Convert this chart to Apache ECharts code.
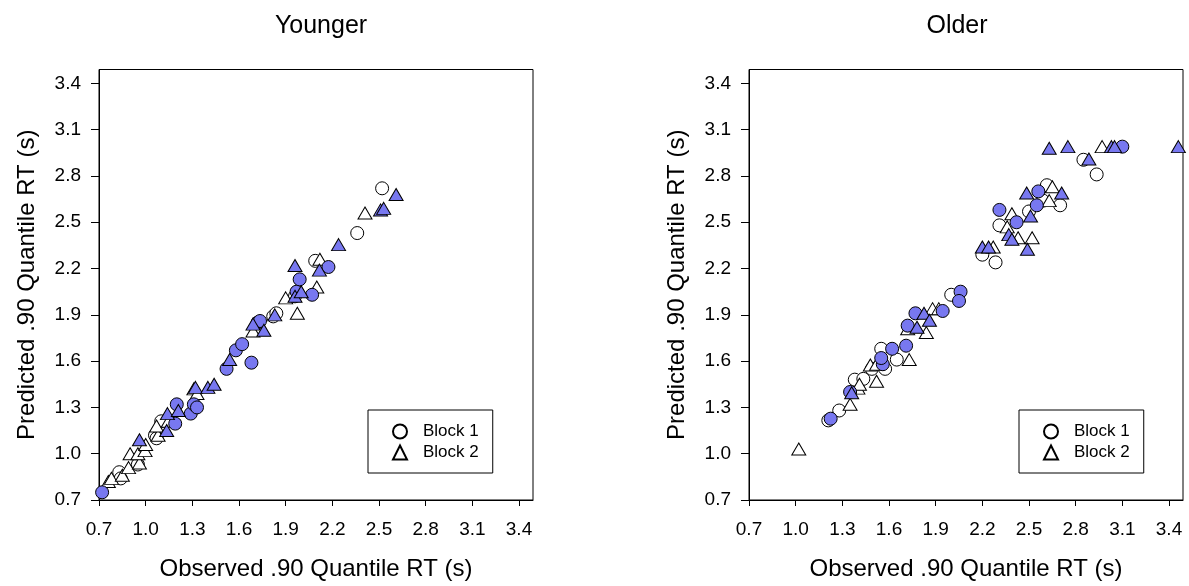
<!DOCTYPE html>
<html>
<head>
<meta charset="utf-8">
<script src="https://cdn.jsdelivr.net/npm/echarts@6/dist/echarts.min.js"></script>
<style>
  html, body { margin: 0; padding: 0; background: #fff; }
  #chart { width: 1189px; height: 586px; }
</style>
</head>
<body>
<div id="chart"></div>
<script>
// tick labels shared by both panels
const ticks = [0.7, 1.0, 1.3, 1.6, 1.9, 2.2, 2.5, 2.8, 3.1, 3.4];

// Younger panel: [observed, predicted]
const youngB1Open = [[0.83,0.88],[0.84,0.84],[0.95,0.93],[1.06,1.12],[1.07,1.10],[1.10,1.21],[1.82,1.89],[1.84,1.91],[1.96,2.02],[2.09,2.25],[2.36,2.43],[2.52,2.72]];
const youngB1Fill = [[0.72,0.75],[1.19,1.195],[1.20,1.32],[1.29,1.26],[1.31,1.32],[1.33,1.30],[1.52,1.55],[1.58,1.67],[1.62,1.71],[1.68,1.59],[1.72,1.85],[1.735,1.86],[1.97,2.05],[1.99,2.13],[2.07,2.03],[2.175,2.21]];
const youngB2Open = [[0.76,0.82],[0.78,0.84],[0.85,0.86],[0.89,0.91],[0.90,1.00],[0.96,0.94],[0.95,1.00],[0.996,1.02],[1.00,1.06],[1.08,1.12],[1.07,1.18],[1.145,1.21],[1.31,1.42],[1.33,1.39],[1.69,1.795],[1.90,2.01],[1.975,1.91],[2.10,2.08],[2.12,2.26],[2.41,2.56]];
const youngB2Fill = [[0.96,1.09],[1.135,1.15],[1.14,1.26],[1.21,1.28],[1.32,1.43],[1.40,1.43],[1.44,1.45],[1.54,1.61],[1.69,1.84],[1.76,1.80],[1.83,1.90],[1.96,2.02],[1.96,2.22],[2.00,2.05],[2.117,2.19],[2.24,2.355],[2.51,2.58],[2.53,2.59],[2.61,2.68]];

// Older panel: [observed, predicted]
const oldB1Open = [[1.21,1.216],[1.28,1.28],[1.38,1.48],[1.435,1.485],[1.49,1.55],[1.575,1.55],[1.55,1.68],[1.65,1.61],[2.00,2.03],[2.20,2.29],[2.285,2.24],[2.31,2.48],[2.50,2.57],[2.59,2.64],[2.615,2.74],[2.70,2.61],[2.85,2.905],[2.935,2.81]];
const oldB1Fill = [[1.225,1.227],[1.35,1.40],[1.56,1.58],[1.55,1.62],[1.62,1.68],[1.71,1.70],[1.72,1.83],[1.77,1.91],[1.945,1.925],[2.06,2.05],[2.05,1.99],[2.31,2.58],[2.42,2.50],[2.55,2.61],[2.56,2.70],[3.10,2.99]];
const oldB2Open = [[1.02,1.03],[1.35,1.32],[1.40,1.425],[1.41,1.45],[1.48,1.575],[1.52,1.47],[1.52,1.58],[1.73,1.61],[1.72,1.81],[1.84,1.785],[1.88,1.94],[1.92,1.94],[2.27,2.34],[2.39,2.555],[2.36,2.47],[2.43,2.40],[2.52,2.40],[2.63,2.64],[2.65,2.73],[2.97,2.99]];
const oldB2Fill = [[1.36,1.395],[1.78,1.82],[1.825,1.91],[1.86,1.865],[2.20,2.34],[2.24,2.34],[2.37,2.42],[2.39,2.39],[2.49,2.325],[2.485,2.69],[2.51,2.54],[2.71,2.69],[2.63,2.98],[2.75,2.99],[2.885,2.91],[3.03,2.99],[3.05,2.99],[3.46,2.99]];

const FONT = 'Liberation Sans';
const FILL = '#7878f0';

const chart = echarts.init(document.getElementById('chart'), null, { renderer: 'canvas' });

// one axis, x or y, for a given panel
function makeAxis(idx, isX, name) {
  return {
    type: 'value',
    gridIndex: idx,
    min: 0.7,
    max: 3.49,
    name: name,
    nameLocation: 'middle',
    nameGap: isX ? 57 : 60,
    nameTextStyle: { fontFamily: FONT, fontSize: 24, color: '#000' },
    axisLine: { show: true, onZero: false, lineStyle: { color: '#000', width: 1 } },
    axisTick: { show: true, inside: false, length: isX ? 6 : 8, customValues: ticks, lineStyle: { color: '#000' } },
    axisLabel: {
      customValues: ticks,
      margin: isX ? 20 : 18,
      fontFamily: FONT, fontSize: 19, color: '#000',
      formatter: v => v.toFixed(1)
    },
    splitLine: { show: false }
  };
}

function scatter(name, idx, data, symbol, filled) {
  return {
    name: name,
    type: 'scatter',
    xAxisIndex: idx,
    yAxisIndex: idx,
    data: data,
    symbol: symbol,
    symbolSize: symbol === 'circle' ? 13 : [14, 12],
    itemStyle: { color: filled ? FILL : '#fff', borderColor: '#000', borderWidth: 1, opacity: 1 },
    emphasis: { disabled: true },
    animation: false
  };
}

function makeLegend(idx, left) {
  return {
    data: ['Block 1', 'Block 2'],
    orient: 'vertical',
    left: left,
    top: 410,
    padding: [13, 14, 12, 24],
    itemWidth: 14,
    itemHeight: 14,
    itemGap: 4,
    borderColor: '#000',
    borderWidth: 1,
    selectedMode: false,
    textStyle: { fontFamily: FONT, fontSize: 17, color: '#000', padding: [0, 0, 0, 11] }
  };
}

const option = {
  backgroundColor: '#fff',
  animation: false,
  title: [
    { text: 'Younger', left: 316, top: 9, textAlign: 'center', textStyle: { fontFamily: FONT, fontSize: 25, fontWeight: 'normal', color: '#000' } },
    { text: 'Older', left: 952, top: 9, textAlign: 'center', textStyle: { fontFamily: FONT, fontSize: 25, fontWeight: 'normal', color: '#000' } }
  ],
  grid: [
    { left: 99, right: 656, top: 69.5, bottom: 84, show: true, borderColor: '#000', borderWidth: 1, backgroundColor: 'transparent' },
    { left: 749, right: 6, top: 69.5, bottom: 84, show: true, borderColor: '#000', borderWidth: 1, backgroundColor: 'transparent' }
  ],
  xAxis: [
    makeAxis(0, true, 'Observed .90 Quantile RT (s)'),
    makeAxis(1, true, 'Observed .90 Quantile RT (s)')
  ],
  yAxis: [
    makeAxis(0, false, 'Predicted .90 Quantile RT (s)'),
    makeAxis(1, false, 'Predicted .90 Quantile RT (s)')
  ],
  legend: [makeLegend(0, 368), makeLegend(1, 1019)],
  series: [
    scatter('Block 1', 0, youngB1Open, 'circle', false),
    scatter('Block 2', 0, youngB2Open, 'triangle', false),
    scatter('Block 1 filled', 0, youngB1Fill, 'circle', true),
    scatter('Block 2 filled', 0, youngB2Fill, 'triangle', true),
    scatter('Block 1', 1, oldB1Open, 'circle', false),
    scatter('Block 2', 1, oldB2Open, 'triangle', false),
    scatter('Block 1 filled', 1, oldB1Fill, 'circle', true),
    scatter('Block 2 filled', 1, oldB2Fill, 'triangle', true)
  ]
};

chart.setOption(option);
</script>
</body>
</html>
